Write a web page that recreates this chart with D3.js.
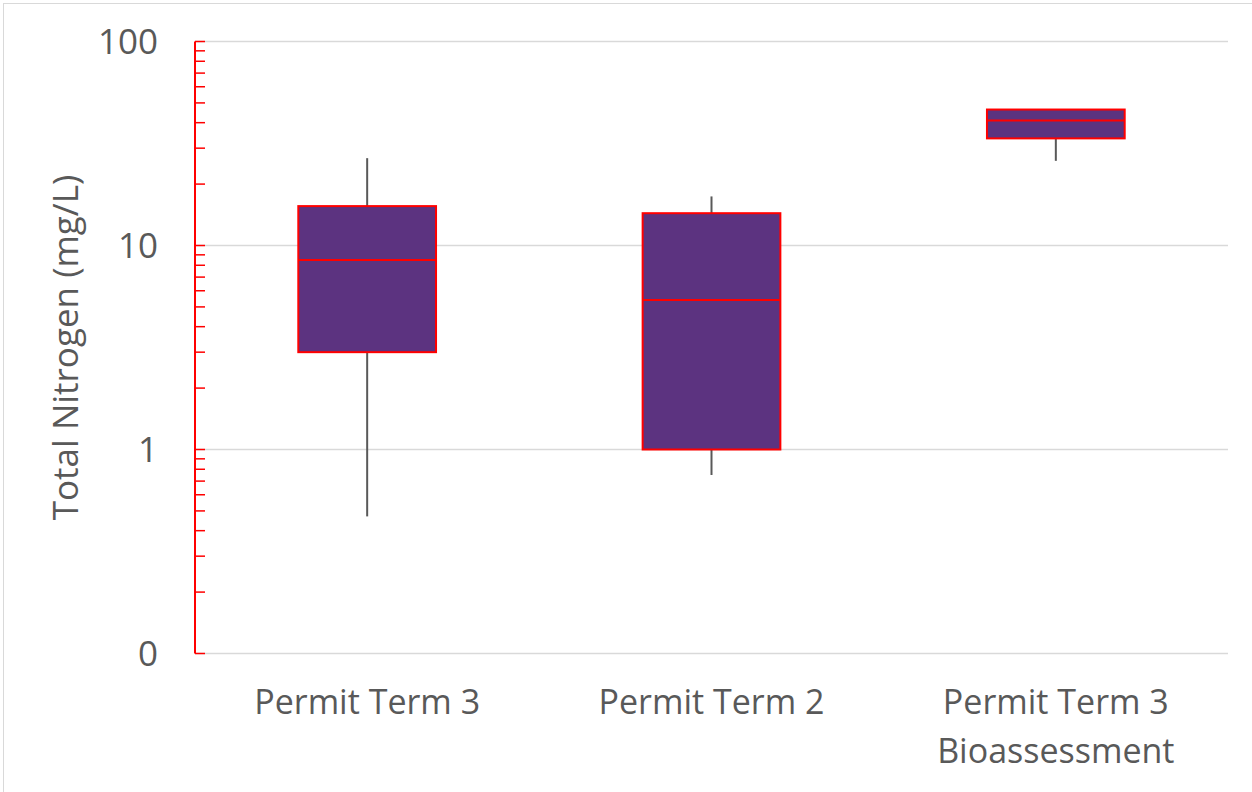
<!DOCTYPE html>
<html>
<head>
<meta charset="utf-8">
<script src="https://cdn.jsdelivr.net/npm/d3@7/dist/d3.min.js"></script>
<style>
html,body{margin:0;padding:0;background:#fff;}
svg{display:block;}
text{font-family:"Open Sans",sans-serif;fill:#595959;}
</style>
</head>
<body>
<svg id="chart" width="1252" height="792"></svg>
<script>
const categories = ["Permit Term 3", "Permit Term 2", "Permit Term 3\nBioassessment"];
const minVals    = [0.47, 0.75, 26.0];
const q1Vals     = [3.0, 1.0, 33.5];
const medianVals = [8.5, 5.4, 41.0];
const q3Vals     = [15.6, 14.4, 46.4];
const maxVals    = [26.8, 17.4, 46.4];
const tickValues = [0.1, 1, 10, 100];
const tickLabels = ["0", "1", "10", "100"];
const yTitle = "Total Nitrogen (mg/L)";

const svg = d3.select("#chart");
const m = {left:195, right:1228, top:41.5, bottom:653.5};

// outer chart border
svg.append("rect").attr("x",3.5).attr("y",3.5).attr("width",1260).attr("height",800)
  .attr("fill","none").attr("stroke","#d9d9d9").attr("stroke-width",1);

const x = d3.scaleBand().domain(categories).range([m.left, m.right]).padding(0);
const y = d3.scaleLog().domain([0.1, 100]).range([m.bottom, m.top]);

// gridlines
svg.append("g").selectAll("line").data(tickValues).join("line")
  .attr("x1", m.left).attr("x2", m.right)
  .attr("y1", d=>y(d)).attr("y2", d=>y(d))
  .attr("stroke","#d9d9d9").attr("stroke-width",1.5);

// minor/major ticks (inside)
const allTicks = [];
for (let dec of [0.1, 1, 10]) for (let k=1;k<=9;k++) allTicks.push(+(dec*k).toPrecision(3));
allTicks.push(100);
svg.append("g").selectAll("line").data(allTicks).join("line")
  .attr("x1", m.left).attr("x2", m.left+10)
  .attr("y1", d=>y(d)).attr("y2", d=>y(d))
  .attr("stroke","#ff0000").attr("stroke-width",1.5);

// axis line
svg.append("line").attr("x1",m.left).attr("x2",m.left)
  .attr("y1",y(100)).attr("y2",y(0.1)).attr("stroke","#ff0000").attr("stroke-width",2);

// tick labels
svg.append("g").selectAll("text").data(tickValues).join("text")
  .attr("x", 158).attr("y", d=>y(d)).attr("dy","0.36em")
  .attr("text-anchor","end").attr("font-size",35)
  .text((d,i)=>tickLabels[i]);

// y title
svg.append("text").attr("transform",`translate(78,${(m.top+m.bottom)/2}) rotate(-90)`)
  .attr("text-anchor","middle").attr("font-size",35).text(yTitle);

// category labels
categories.forEach(c=>{
  const lines = c.split("\n");
  const cx = x(c)+x.bandwidth()/2;
  const t = svg.append("text").attr("x", cx).attr("y", 714)
    .attr("text-anchor","middle").attr("font-size",34);
  lines.forEach((l,i)=>t.append("tspan").attr("x", cx).attr("dy", i? 49:0).text(l));
});

// boxes
const bw = x.bandwidth()*0.4;
const g = svg.append("g");
categories.forEach((c,i)=>{
  const cx = x(c)+x.bandwidth()/2;
  g.append("line").attr("x1",cx).attr("x2",cx).attr("y1",y(minVals[i])).attr("y2",y(q1Vals[i]))
    .attr("stroke","#595959").attr("stroke-width",2);
  g.append("line").attr("x1",cx).attr("x2",cx).attr("y1",y(q3Vals[i])).attr("y2",y(maxVals[i]))
    .attr("stroke","#595959").attr("stroke-width",2);
  g.append("rect").attr("x",cx-bw/2).attr("width",bw)
    .attr("y",y(q3Vals[i])).attr("height",y(q1Vals[i])-y(q3Vals[i]))
    .attr("fill","#5c3380").attr("stroke","#ff0000").attr("stroke-width",2);
  g.append("line").attr("x1",cx-bw/2).attr("x2",cx+bw/2)
    .attr("y1",y(medianVals[i])).attr("y2",y(medianVals[i]))
    .attr("stroke","#ff0000").attr("stroke-width",2);
});
</script>
</body>
</html>
